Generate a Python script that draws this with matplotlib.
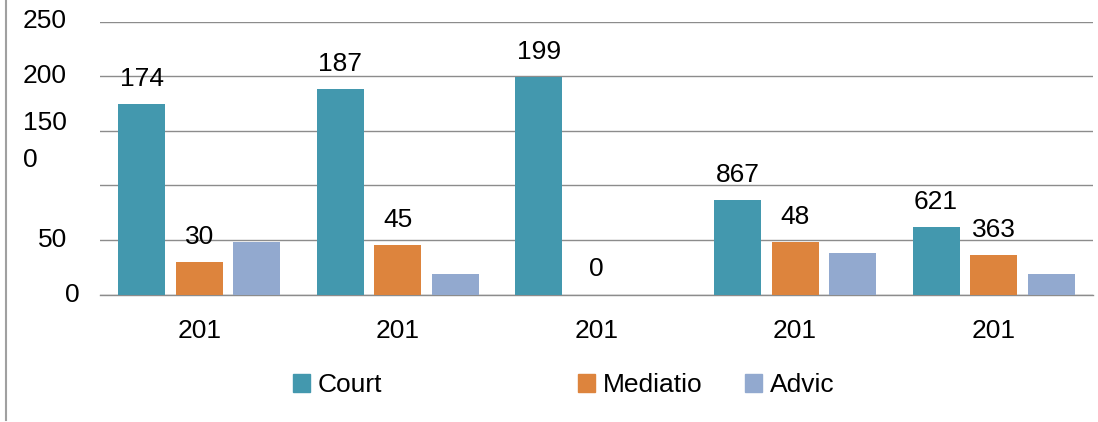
import matplotlib
matplotlib.use('Agg')
import matplotlib.pyplot as plt
from matplotlib.lines import Line2D
from matplotlib.patches import Patch
import numpy as np

plt.rcParams['font.family'] = ['Liberation Sans', 'DejaVu Sans']

# data (labels are shown truncated, as in the original)
years = ['201', '201', '201', '201', '201']
court = [1745, 1878, 1992, 867, 621]
mediation = [300, 452, 0, 482, 363]
advice = [478, 190, 0, 378, 190]
court_labels = ['174', '187', '199', '867', '621']
mediation_labels = ['30', '45', '0', '48', '363']
series_names = ['Court', 'Mediatio', 'Advic']
yticks = [0, 500, 1000, 1500, 2000, 2500]
ytick_labels = ['0', '50', '', '150\n0', '200', '250']

colors = ['#4398AE', '#DD843D', '#92A9CF']
grid_col = '#8C8C8C'
fs = 19

fig = plt.figure(figsize=(10.98, 4.22), dpi=100)
ax = fig.add_axes([100 / 1098, 127.5 / 422, 993 / 1098, 273 / 422])

x = np.arange(len(years))
off = 0.29
w = 0.237
ax.bar(x - off, court, w, color=colors[0], zorder=3)
ax.bar(x, mediation, w, color=colors[1], zorder=3)
ax.bar(x + off, advice, w, color=colors[2], zorder=3)

for xi, v, lab in zip(x - off, court, court_labels):
    ax.annotate(lab, (xi, v), xytext=(0, 13), textcoords='offset points',
                ha='center', va='baseline', fontsize=fs)
for xi, v, lab in zip(x, mediation, mediation_labels):
    ax.annotate(lab, (xi, v), xytext=(0, 13), textcoords='offset points',
                ha='center', va='baseline', fontsize=fs)

ax.set_xlim(-0.5, len(years) - 0.5)
ax.set_ylim(0, 2500)
ax.set_yticks(yticks)
ax.set_yticklabels([])
ax.tick_params(axis='y', length=0)
ax.yaxis.grid(True, color=grid_col, linewidth=1.0, zorder=0)
ax.set_xticks(x)
ax.set_xticklabels(years, fontsize=fs)
ax.tick_params(axis='x', length=0, pad=18)
for s in ['top', 'right', 'left']:
    ax.spines[s].set_visible(False)
ax.spines['bottom'].set_color(grid_col)
ax.spines['bottom'].set_linewidth(1.0)

# y labels drawn by hand to keep the odd wrapping of the original
ytr = ax.get_yaxis_transform()
for t, lab in zip(yticks, ytick_labels):
    if lab == '':
        continue
    if t == 0:
        ax.text(-0.0352, t, lab, transform=ytr, ha='left', va='center', fontsize=fs)
    elif '\n' in lab:
        ax.text(-0.0332, t - 100, lab, transform=ytr, ha='right', va='center',
                multialignment='left', linespacing=1.65, fontsize=fs)
    else:
        ax.text(-0.0332, t, lab, transform=ytr, ha='right', va='center', fontsize=fs)

# legend entries are spread unevenly in the original
for name, col, xl in zip(series_names, colors, [293, 578, 745]):
    fig.legend(handles=[Patch(color=col)], labels=[name], loc='center left',
               bbox_to_anchor=(xl / 1098, 37 / 422), frameon=False, fontsize=fs,
               handlelength=0.65, handleheight=0.65, handletextpad=0.3,
               borderpad=0, borderaxespad=0)

fig.add_artist(Line2D([6 / 1098, 6 / 1098], [2 / 422, 1], transform=fig.transFigure,
                      color='#A0A0A0', linewidth=1.5))

fig.savefig('out.png', dpi=100)
